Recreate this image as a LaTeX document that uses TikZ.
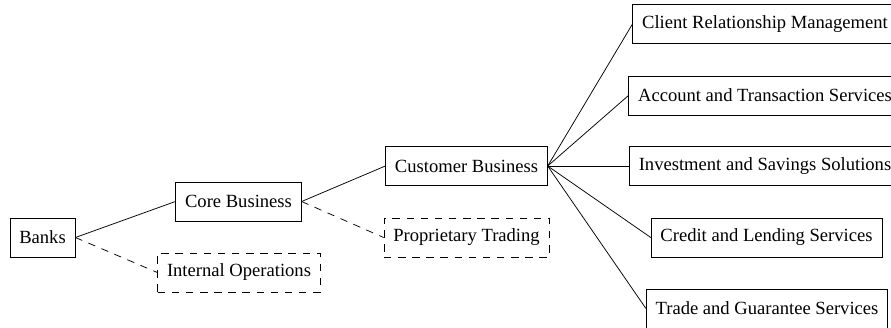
\documentclass[tikz,border=0pt]{standalone}
\usepackage{fontspec}
\setmainfont{Liberation Serif}
\tikzset{
	unitbox/.style={draw, line width=0.4pt, inner xsep=5pt, minimum height=21pt, font=\fontsize{10}{12}\selectfont},
	sidebox/.style={unitbox, dash pattern=on 4pt off 3.6pt},
	sideline/.style={line width=0.4pt, dash pattern=on 4pt off 3.6pt}
}

\begin{document}
\begin{tikzpicture}[x=0.538pt, y=-0.538pt]
		%%%%% START %%%%%
		
		\clip (0, 0) rectangle (891, 327);
		
		\node[unitbox] (banks) at (42.5, 237.5) {Banks};
		\node[unitbox] (core) at (238.5, 201.5) {Core Business};
		\node[sidebox] (internal) at (239, 272.5) {Internal Operations};
		\node[unitbox] (customer) at (466.5, 166) {Customer Business};
		\node[sidebox] (trading) at (466.5, 237.5) {Proprietary Trading};
		
		\node[unitbox] (client) at (765, 24) {Client Relationship Management};
		\node[unitbox] (account) at (765, 95.5) {Account and Transaction Services};
		\node[unitbox] (invest) at (765, 166) {Investment and Savings Solutions};
		\node[unitbox] (credit) at (766.5, 237.5) {Credit and Lending Services};
		\node[unitbox] (trade) at (767, 308.5) {Trade and Guarantee Services};
		
		\draw[line width=0.4pt] (banks.east) -- (core.west);
		\draw[sideline] (banks.east) -- (internal.west);
		\draw[line width=0.4pt] (core.east) -- (customer.west);
		\draw[sideline] (core.east) -- (trading.west);
		
		\foreach \leaf in {client, account, invest, credit, trade}
			\draw[line width=0.4pt] (customer.east) -- (\leaf.west);
		
		%%%%% END %%%%%
	\end{tikzpicture}
\end{document}
